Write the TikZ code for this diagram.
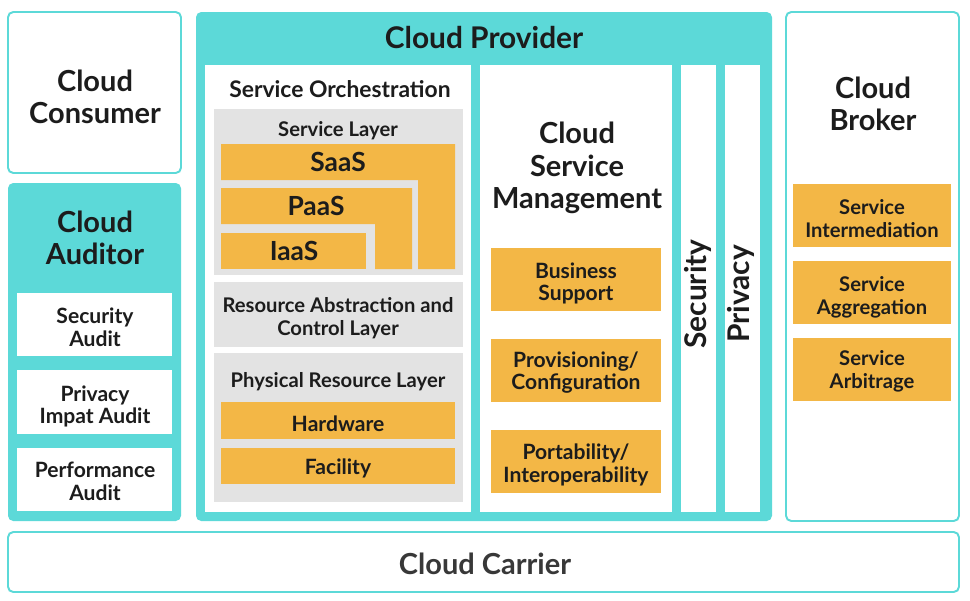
\documentclass[tikz,border=0pt]{standalone}
\usepackage{fontspec}
\setmainfont{Lato}
\usepackage{tikz}
\usetikzlibrary{positioning}
\definecolor{cyanpanel}{HTML}{5CD9D8}
\definecolor{ambertile}{HTML}{F3B746}
\definecolor{greylayer}{HTML}{E3E3E3}
\definecolor{inkdark}{HTML}{1C1C1C}
\definecolor{inkgrey}{HTML}{383838}
\tikzset{panel/.style={fill=cyanpanel,rounded corners=3pt},
  outline/.style={draw=cyanpanel,line width=1.1pt,fill=white,rounded corners=3pt},
  sheet/.style={fill=white},
  layer/.style={fill=greylayer},
  tile/.style={fill=ambertile},
  headtext/.style={font=\bfseries\fontsize{16.5}{18.5}\selectfont,align=center,text=inkdark},
  subtext/.style={font=\bfseries\fontsize{13}{14.5}\selectfont,align=center,text=inkdark,yshift=-0.05cm},
  celltext/.style={font=\bfseries\fontsize{12}{13}\selectfont,align=center,text=inkdark,yshift=-0.05cm},
  layertext/.style={font=\fontsize{11.5}{13}\selectfont\bfseries,align=center,text=inkdark,yshift=-0.05cm}}

\begin{document}
\begin{tikzpicture}[x=0.02cm, y=-0.02cm]
        \useasboundingbox[fill=white] (0,0) rectangle (970,600);
        % left column
        \draw[outline] (8,12) rectangle (181,173);
        \node[headtext] (consumer) at (95,97) {Cloud\\Consumer};
        \fill[panel] (8,183) rectangle (181,521);
        \node[headtext] (auditor) at (95,238) {Cloud\\Auditor};
        \fill[sheet] (17,293) rectangle (172,356);
        \node[celltext] (secaudit) at (95,325) {Security\\Audit};
        \fill[sheet] (17,370) rectangle (172,434);
        \node[celltext] (privaudit) at (95,404) {Privacy\\Impat Audit};
        \fill[sheet] (17,448) rectangle (172,511);
        \node[celltext] (perfaudit) at (95,479) {Performance\\Audit};
        % provider
        \fill[panel] (196,12) rectangle (772,521);
        \node[headtext,font=\bfseries\fontsize{17}{19}\selectfont] (provider) at (484,38) {Cloud Provider};
        \fill[sheet] (205,65) rectangle (471,512);
        \node[subtext] (orchestration) at (340,87) {Service Orchestration};
        \fill[layer] (214,109) rectangle (463,275);
        \node[layertext] (servicelayer) at (338,128) {Service Layer};
        \fill[tile] (221,144) -- (455,144) -- (455,269) -- (418,269) -- (418,180) -- (221,180) -- cycle;
        \node[headtext,font=\bfseries\fontsize{15}{17}\selectfont] (saas) at (338,162) {SaaS};
        \fill[tile] (221,188) -- (412,188) -- (412,269) -- (375,269) -- (375,224) -- (221,224) -- cycle;
        \node[headtext,font=\bfseries\fontsize{15}{17}\selectfont] (paas) at (316,206) {PaaS};
        \fill[tile] (221,233) rectangle (366,269);
        \node[headtext,font=\bfseries\fontsize{15}{17}\selectfont] (iaas) at (294,251) {IaaS};
        \fill[layer] (214,282) rectangle (463,347);
        \node[layertext] (abstraction) at (338,316) {Resource Abstraction and\\Control Layer};
        \fill[layer] (214,353) rectangle (463,502);
        \node[layertext] (physical) at (338,379) {Physical Resource Layer};
        \fill[tile] (221,402) rectangle (455,439);
        \node[celltext] (hardware) at (338,421) {Hardware};
        \fill[tile] (221,448) rectangle (455,484);
        \node[celltext] (facility) at (338,466) {Facility};
        % service management
        \fill[sheet] (480,65) rectangle (672,512);
        \node[headtext] (management) at (577,168) {Cloud\\Service\\Management};
        \fill[tile] (491,248) rectangle (661,311);
        \node[celltext] (business) at (576,281) {Business\\Support};
        \fill[tile] (491,339) rectangle (661,402);
        \node[celltext] (provisioning) at (576,370) {Provisioning/\\Configuration};
        \fill[tile] (491,430) rectangle (661,493);
        \node[celltext] (portability) at (576,462) {Portability/\\Interoperability};
        \fill[sheet] (681,65) rectangle (716,512);
        \node[headtext,font=\bfseries\fontsize{17}{19}\selectfont,rotate=90] (security) at (698,294) {Security};
        \fill[sheet] (725,65) rectangle (760,512);
        \node[headtext,font=\bfseries\fontsize{17}{19}\selectfont,rotate=90] (privacy) at (741,294) {Privacy};
        % broker
        \draw[outline] (786,12) rectangle (959,521);
        \node[headtext] (broker) at (873,104) {Cloud\\Broker};
        \fill[tile] (793,184) rectangle (951,247);
        \node[celltext,font=\bfseries\fontsize{11.5}{13}\selectfont] (intermediation) at (872,216) {Service\\Intermediation};
        \fill[tile] (793,261) rectangle (951,324);
        \node[celltext,font=\bfseries\fontsize{11.5}{13}\selectfont] (aggregation) at (872,295) {Service\\Aggregation};
        \fill[tile] (793,338) rectangle (951,401);
        \node[celltext,font=\bfseries\fontsize{11.5}{13}\selectfont] (arbitrage) at (872,369) {Service\\Arbitrage};
        % carrier
        \draw[outline] (8,532) rectangle (959,592);
        \node[headtext,text=inkgrey] (carrier) at (485,564) {Cloud Carrier};
\end{tikzpicture}
\end{document}
